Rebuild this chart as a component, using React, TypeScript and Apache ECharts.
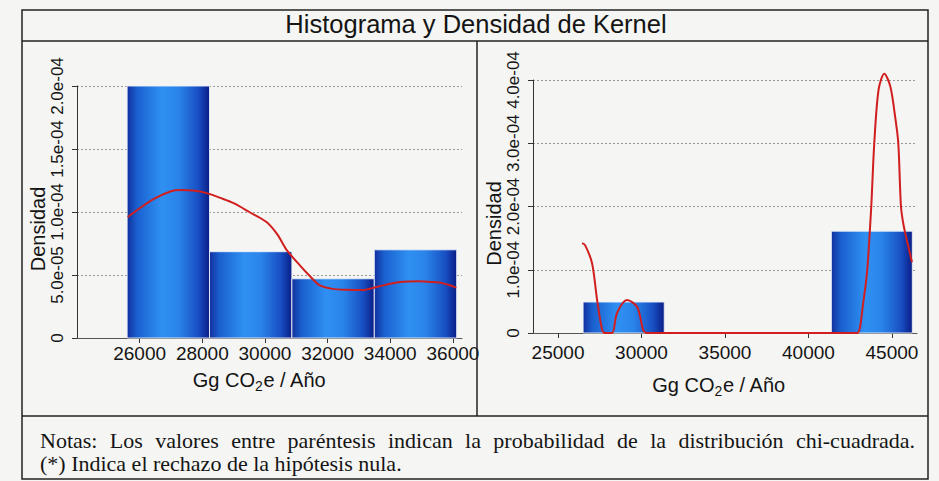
import React, { useEffect, useRef } from 'react';
import * as echarts from 'echarts';

// ---------- data ----------
const titleText = 'Histograma y Densidad de Kernel';
const noteLine1 = 'Notas: Los valores entre paréntesis indican la probabilidad de la distribución chi-cuadrada.';
const noteLine2 = '(*) Indica el rechazo de la hipótesis nula.';

// left panel histogram
const leftBinStart = [25600, 28230, 30860, 33490];
const leftBinEnd = [28230, 30860, 33490, 36120];
const leftDensity = [2.0e-4, 6.85e-5, 4.7e-5, 7.0e-5];
// left panel kernel density
const leftKdeX = [25620, 26000, 26500, 27000, 27300, 27700, 28140, 28600, 29000, 29500, 30050, 30400, 30690, 31100, 31400, 31740, 32160, 32600, 33100, 33560, 34000, 34300, 34930, 35300, 35670, 36110];
const leftKdeY = [9.6e-5, 1.03e-4, 1.11e-4, 1.165e-4, 1.175e-4, 1.17e-4, 1.15e-4, 1.11e-4, 1.07e-4, 1.0e-4, 9.2e-5, 8.2e-5, 7.0e-5, 5.8e-5, 5.0e-5, 4.2e-5, 3.9e-5, 3.82e-5, 3.8e-5, 4.05e-5, 4.3e-5, 4.45e-5, 4.5e-5, 4.45e-5, 4.35e-5, 4.0e-5];
const leftXTicks = [26000, 28000, 30000, 32000, 34000, 36000];
const leftYTicks = [0, 5e-5, 1e-4, 1.5e-4, 2e-4];
const leftYLabels = ['0', '5.0e-05', '1.0e-04', '1.5e-04', '2.0e-04'];

// right panel histogram
const rightBinStart = [26500, 41370];
const rightBinEnd = [31360, 46220];
const rightDensity = [4.9e-5, 1.61e-4];
// right panel kernel density
const rightKdeX = [26440, 26620, 27040, 27340, 27640, 27800, 28000, 28240, 28540, 29140, 29740, 30100, 30300, 30700, 42500, 42930, 43290, 43520, 43760, 43940, 44200, 44540, 44900, 45200, 45380, 45540, 45700, 45950, 46200];
const rightKdeY = [1.42e-4, 1.39e-4, 1.1e-4, 5.2e-5, 5e-6, 0, 0, 0, 3.2e-5, 5.2e-5, 4.1e-5, 5e-6, 0, 0, 0, 0, 5e-5, 1.0e-4, 2.0e-4, 3.0e-4, 3.85e-4, 4.1e-4, 3.9e-4, 3.4e-4, 3.0e-4, 2.0e-4, 1.7e-4, 1.4e-4, 1.12e-4];
const rightXTicks = [25000, 30000, 35000, 40000, 45000];
const rightYTicks = [0, 1e-4, 2e-4, 3e-4, 4e-4];
const rightYLabels = ['0', '1.0e-04', '2.0e-04', '3.0e-04', '4.0e-04'];

const xName = '{a|Gg CO}{s|2}{a|e / Año}';
const yName = 'Densidad';

// ---------- styling ----------
const sans = '"Liberation Sans", Arial, Helvetica, sans-serif';
const serif = '"Liberation Serif", "Times New Roman", serif';
const ink = '#141414';
const noteFont = `22px ${serif}`;

function lookup(ticks: number[], labels: string[]) {
  return (v: number) => {
    for (let i = 0; i < ticks.length; i++) {
      if (Math.abs(ticks[i] - v) < 1e-12) return labels[i];
    }
    return '';
  };
}

function barGradient() {
  return new echarts.graphic.LinearGradient(0, 0, 1, 0, [
    { offset: 0, color: '#11309e' },
    { offset: 0.12, color: '#1a60cf' },
    { offset: 0.42, color: '#2f90f2' },
    { offset: 0.62, color: '#2a84ea' },
    { offset: 0.86, color: '#1850c4' },
    { offset: 1, color: '#0a1d86' },
  ]);
}

function histSeries(starts: number[], ends: number[], vals: number[], idx: number) {
  return {
    type: 'custom',
    xAxisIndex: idx,
    yAxisIndex: idx,
    z: 2,
    clip: false,
    encode: { x: [0, 1], y: 2 },
    data: starts.map((s, i) => [s, ends[i], vals[i]]),
    renderItem: (params: any, api: any) => {
      const p0 = api.coord([api.value(0), api.value(2)]);
      const p1 = api.coord([api.value(1), 0]);
      return {
        type: 'rect',
        shape: { x: p0[0], y: p0[1], width: p1[0] - p0[0], height: p1[1] - p0[1] },
        style: { fill: barGradient(), stroke: 'rgba(235,240,250,0.9)', lineWidth: 1 },
      };
    },
  };
}

function kdeSeries(xs: number[], ys: number[], idx: number) {
  return {
    type: 'line',
    xAxisIndex: idx,
    yAxisIndex: idx,
    z: 5,
    clip: false,
    smooth: 0.3,
    showSymbol: false,
    symbol: 'none',
    lineStyle: { color: '#d11e1e', width: 2 },
    data: xs.map((x, i) => [x, ys[i]]),
  };
}

const gridLine = { show: true, lineStyle: { color: '#9a9a9a', type: [2, 2], width: 1 } };
const nameRich = {
  a: { fontSize: 20, fontFamily: sans, color: ink, lineHeight: 26, verticalAlign: 'middle' },
  s: { fontSize: 14, fontFamily: sans, color: ink, lineHeight: 26, verticalAlign: 'bottom' },
};

function xAxis(idx: number, min: number, max: number, interval: number, ticks: number[], margin: number, nameGap: number, padRight: number) {
  return {
    gridIndex: idx,
    type: 'value',
    min,
    max,
    interval,
    axisLine: { show: true, onZero: false, lineStyle: { color: '#555', width: 1 } },
    axisTick: { show: true, length: 5, customValues: ticks, lineStyle: { color: '#333' } },
    axisLabel: { customValues: ticks, fontSize: 19, margin, color: ink, fontFamily: sans, formatter: (v: number) => String(v) },
    splitLine: { show: false },
    name: xName,
    nameLocation: 'middle',
    nameGap,
    nameTextStyle: { rich: nameRich, padding: [0, padRight, 0, 0] },
  };
}

function yAxis(idx: number, max: number, interval: number, ticks: number[], labels: string[]) {
  return {
    gridIndex: idx,
    type: 'value',
    min: 0,
    max,
    interval,
    axisLine: { show: true, lineStyle: { color: '#333', width: 1 } },
    axisTick: { show: true, length: 5, lineStyle: { color: '#333' } },
    axisLabel: { rotate: 90, fontSize: 17, margin: 11, color: ink, fontFamily: sans, formatter: lookup(ticks, labels) },
    splitLine: gridLine,
    name: yName,
    nameLocation: 'middle',
    nameRotate: 90,
    nameGap: 26,
    nameTextStyle: { fontSize: 20, color: ink, fontFamily: sans, padding: [0, 34, 0, 0] },
  };
}

// justify a line of text across a given width (the reference is a justified paragraph)
function justifiedWords(text: string, x0: number, x1: number, y: number, font: string) {
  const words = text.split(' ');
  const ctx = document.createElement('canvas').getContext('2d')!;
  ctx.font = font;
  const widths = words.map((w) => ctx.measureText(w).width);
  const total = widths.reduce((a, b) => a + b, 0);
  const gap = (x1 - x0 - total) / (words.length - 1);
  let x = x0;
  return words.map((w, i) => {
    const el = {
      type: 'text', x, y, z: 10,
      style: { text: w, fill: ink, font, textAlign: 'left', textVerticalAlign: 'middle' },
    };
    x += widths[i] + gap;
    return el;
  });
}

export default function App() {
  const ref = useRef<HTMLDivElement>(null);
  useEffect(() => {
    const chart = echarts.init(ref.current!, null, { renderer: 'svg' });
    const frame = { stroke: '#222', lineWidth: 1.5 };
    const option: any = {
      animation: false,
      backgroundColor: '#f5f5f3',
      grid: [
        { left: 77, top: 86, width: 385, height: 252 },
        { left: 533, top: 80, width: 384, height: 253 },
      ],
      xAxis: [
        xAxis(0, 24000, 36290, 2000, leftXTicks, 6, 29, 20),
        xAxis(1, 23500, 46500, 500, rightXTicks, 10, 39, 12),
      ],
      yAxis: [
        yAxis(0, 2e-4, 5e-5, leftYTicks, leftYLabels),
        yAxis(1, 4e-4, 1e-4, rightYTicks, rightYLabels),
      ],
      series: [
        histSeries(leftBinStart, leftBinEnd, leftDensity, 0),
        kdeSeries(leftKdeX, leftKdeY, 0),
        histSeries(rightBinStart, rightBinEnd, rightDensity, 1),
        kdeSeries(rightKdeX, rightKdeY, 1),
      ],
      graphic: [
        { type: 'rect', shape: { x: 22, y: 10, width: 906, height: 469 }, style: { fill: 'none', ...frame }, z: 10 },
        { type: 'line', shape: { x1: 22, y1: 41, x2: 928, y2: 41 }, style: frame, z: 10 },
        { type: 'line', shape: { x1: 477, y1: 41, x2: 477, y2: 416 }, style: frame, z: 10 },
        { type: 'line', shape: { x1: 22, y1: 416, x2: 928, y2: 416 }, style: frame, z: 10 },
        {
          type: 'text', x: 476, y: 24, z: 10,
          style: { text: titleText, fill: ink, font: `25.5px ${sans}`, textAlign: 'center', textVerticalAlign: 'middle' },
        },
        ...justifiedWords(noteLine1, 40, 915, 440, noteFont),
        {
          type: 'text', x: 40, y: 463, z: 10,
          style: { text: noteLine2, fill: ink, font: noteFont, textAlign: 'left', textVerticalAlign: 'middle' },
        },
      ],
    };
    chart.setOption(option);
    return () => chart.dispose();
  }, []);
  return <div ref={ref} style={{ position: 'fixed', left: 0, top: 0, width: 939, height: 481 }} />;
}
